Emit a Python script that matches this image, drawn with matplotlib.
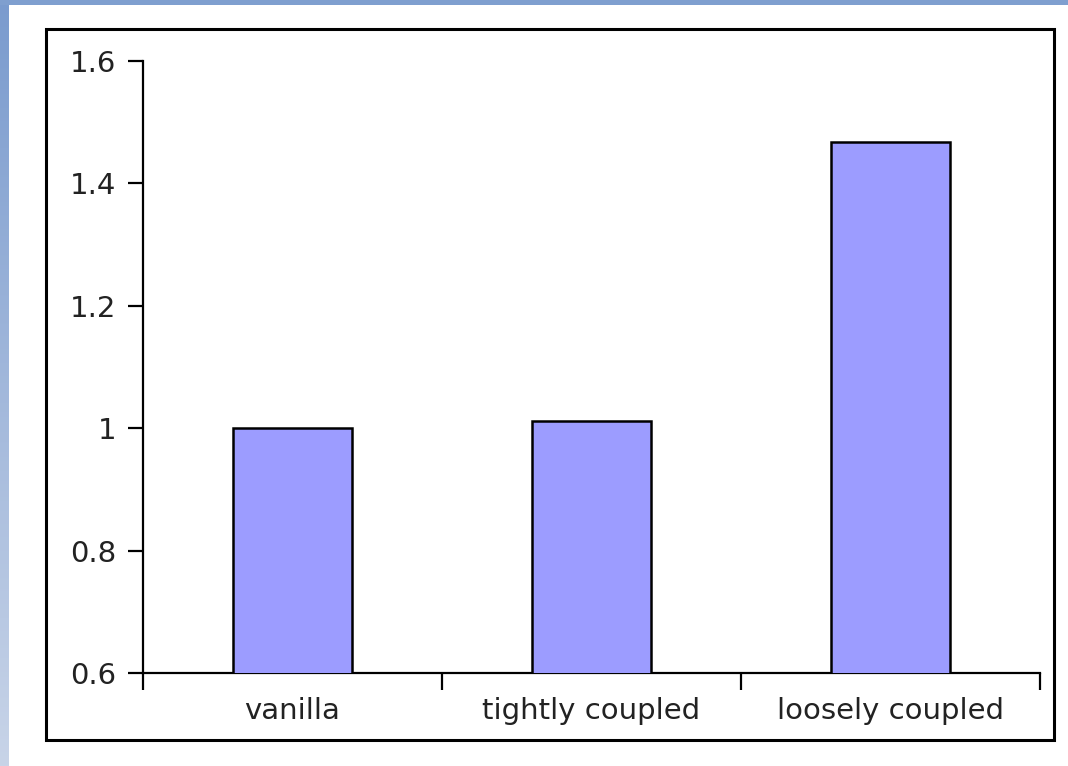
import numpy as np
import matplotlib
matplotlib.use("Agg")
import matplotlib.pyplot as plt
from matplotlib.patches import Rectangle
from matplotlib.ticker import FixedLocator, FixedFormatter

categories = ["vanilla", "tightly coupled", "loosely coupled"]
values = [1.0, 1.012, 1.467]
y_ticks = [0.6, 0.8, 1.0, 1.2, 1.4, 1.6]
y_tick_labels = ["0.6", "0.8", "1", "1.2", "1.4", "1.6"]

W, H, DPI = 1068, 766, 100
fig = plt.figure(figsize=(W / DPI, H / DPI), dpi=DPI)
fig.patch.set_facecolor("white")

# slide-style backdrop: blue strip along the top and a fading strip down the left
bg = np.ones((H, W, 3))
top_col = np.array([127, 159, 207]) / 255.0
left_top = np.array([122, 155, 206]) / 255.0
left_bot = np.array([200, 212, 232]) / 255.0
t = np.linspace(0, 1, H)[:, None]
left_strip = left_top * (1 - t) + left_bot * t
bg[:, :9, :] = left_strip[:, None, :]
bg[:5, :, :] = top_col
fig.figimage(bg, xo=0, yo=0, origin="upper", zorder=0)

# black frame around the chart area
frame = Rectangle((46 / W, 1 - 740 / H), (1054 - 46) / W, (740 - 29) / H,
                  transform=fig.transFigure, facecolor="white",
                  edgecolor="black", linewidth=2.2, zorder=1)
fig.patches.append(frame)

ax = fig.add_axes([143 / W, 1 - 673 / H, (1040 - 143) / W, (673 - 61) / H])
ax.set_zorder(2)
ax.patch.set_alpha(0)

x = np.arange(len(categories))
ax.bar(x, values, width=0.4, color="#9c9cff", edgecolor="black",
       linewidth=1.8, zorder=3)

ax.set_xlim(-0.5, len(categories) - 0.5)
ax.set_ylim(0.6, 1.6)

for side in ("top", "right"):
    ax.spines[side].set_visible(False)
for side in ("left", "bottom"):
    ax.spines[side].set_linewidth(1.6)
    ax.spines[side].set_color("black")

# ticks sit between categories, labels centred under the bars
ax.xaxis.set_major_locator(FixedLocator(np.arange(len(categories) + 1) - 0.5))
ax.xaxis.set_major_formatter(FixedFormatter([""] * (len(categories) + 1)))
ax.xaxis.set_minor_locator(FixedLocator(x))
ax.xaxis.set_minor_formatter(FixedFormatter(categories))
ax.tick_params(axis="x", which="major", direction="out", length=12, width=1.6)
ax.tick_params(axis="x", which="minor", length=0, pad=17,
               labelsize=21, labelcolor="#222222")

ax.yaxis.set_major_locator(FixedLocator(y_ticks))
ax.yaxis.set_major_formatter(FixedFormatter(y_tick_labels))
ax.tick_params(axis="y", direction="out", length=11, width=1.6, pad=8,
               labelsize=21, labelcolor="#222222")

fig.savefig("out.png", dpi=DPI)
